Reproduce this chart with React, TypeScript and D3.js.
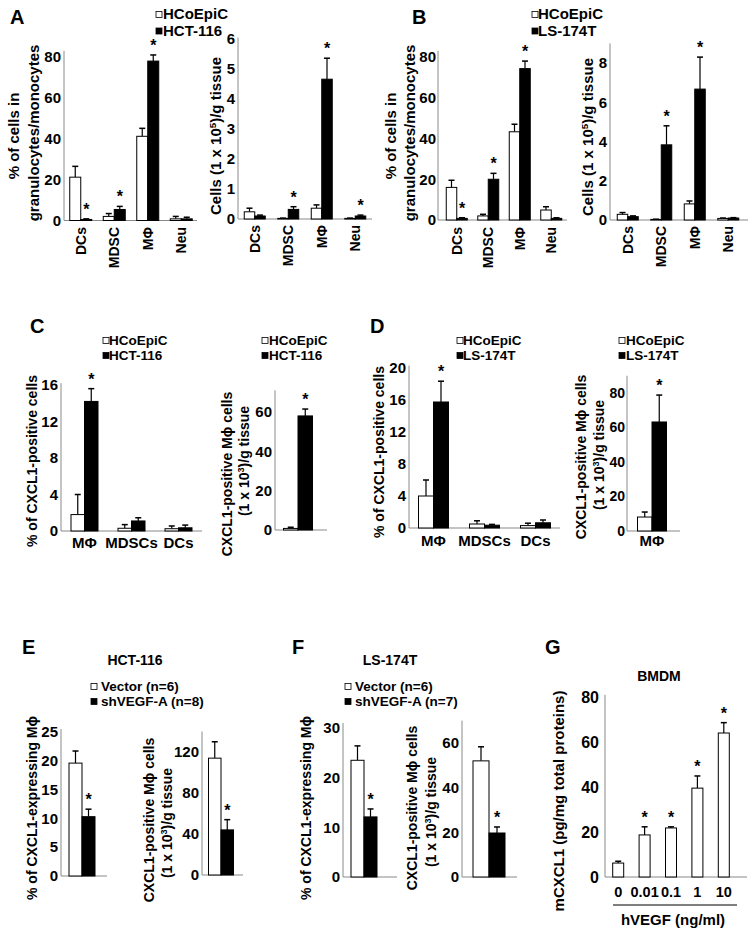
import React from 'react';
import * as d3 from 'd3';

const FONT = '"Liberation Sans", Arial, Helvetica, sans-serif';

// ---------- Panel A ----------
const catsAB = ['DCs', 'MDSC', 'MΦ', 'Neu'];
const aPctTicks = [0, 20, 40, 60, 80];
const aPctHCoEpiC = [21.2, 2, 41.2, 0.8];
const aPctHCoEpiCErr = [5.3, 1.4, 3.9, 1.2];
const aPctHCT116 = [0.5, 5.4, 78, 0.8];
const aPctHCT116Err = [0.3, 1.5, 3, 0.8];
const aPctStars = [1, 1, 1, 0];
const aCellTicks = [0, 1, 2, 3, 4, 5, 6];
const aCellHCoEpiC = [0.24, 0.02, 0.36, 0.02];
const aCellHCoEpiCErr = [0.12, 0.01, 0.11, 0.01];
const aCellHCT116 = [0.1, 0.32, 4.66, 0.1];
const aCellHCT116Err = [0.03, 0.09, 0.7, 0.03];
const aCellStars = [0, 1, 1, 1];

// ---------- Panel B ----------
const bPctTicks = [0, 20, 40, 60, 80];
const bPctHCoEpiC = [16, 2, 43.3, 4.9];
const bPctHCoEpiCErr = [3.5, 0.8, 3.7, 1.6];
const bPctLS174T = [0.8, 20, 74.3, 0.8];
const bPctLS174TErr = [0.3, 2.9, 3.7, 0.3];
const bPctStars = [1, 1, 1, 0];
const bCellTicks = [0, 2, 4, 6, 8];
const bCellHCoEpiC = [0.29, 0.03, 0.82, 0.08];
const bCellHCoEpiCErr = [0.09, 0.01, 0.15, 0.02];
const bCellLS174T = [0.17, 3.83, 6.67, 0.1];
const bCellLS174TErr = [0.04, 0.97, 1.63, 0.02];
const bCellStars = [0, 1, 1, 0];

// ---------- Panel C ----------
const catsCD = ['MΦ', 'MDSCs', 'DCs'];
const cPctTicks = [0, 4, 8, 12, 16];
const cPctHCoEpiC = [1.8, 0.3, 0.25];
const cPctHCoEpiCErr = [2.2, 0.4, 0.3];
const cPctHCT116 = [14.2, 1.1, 0.35];
const cPctHCT116Err = [1.4, 0.35, 0.3];
const cPctStars = [1, 0, 0];
const cCellTicks = [0, 20, 40, 60];
const cCellHCoEpiC = [0.8];
const cCellHCoEpiCErr = [0.6];
const cCellHCT116 = [58];
const cCellHCT116Err = [3.5];
const cCellStars = [1];

// ---------- Panel D ----------
const dPctTicks = [0, 4, 8, 12, 16, 20];
const dPctHCoEpiC = [4.0, 0.5, 0.3];
const dPctHCoEpiCErr = [2.0, 0.4, 0.3];
const dPctLS174T = [15.75, 0.35, 0.65];
const dPctLS174TErr = [2.6, 0.1, 0.35];
const dPctStars = [1, 0, 0];
const catsDCell = ['MΦ'];
const dCellTicks = [0, 20, 40, 60, 80];
const dCellHCoEpiC = [8.1];
const dCellHCoEpiCErr = [2.9];
const dCellLS174T = [63.2];
const dCellLS174TErr = [15.6];
const dCellStars = [1];

// ---------- Panel E ----------
const catsSingle = [''];
const ePctTicks = [0, 5, 10, 15, 20, 25];
const ePctVector = [19.6];
const ePctVectorErr = [2.1];
const ePctShVEGF = [10.3];
const ePctShVEGFErr = [1.3];
const ePctStars = [1];
const eCellTicks = [0, 40, 80, 120];
const eCellVector = [114];
const eCellVectorErr = [16];
const eCellShVEGF = [44];
const eCellShVEGFErr = [10];
const eCellStars = [1];

// ---------- Panel F ----------
const fPctTicks = [0, 10, 20, 30];
const fPctVector = [23.5];
const fPctVectorErr = [2.9];
const fPctShVEGF = [12.1];
const fPctShVEGFErr = [1.6];
const fPctStars = [1];
const fCellTicks = [0, 20, 40, 60];
const fCellVector = [52];
const fCellVectorErr = [6.3];
const fCellShVEGF = [19.7];
const fCellShVEGFErr = [2.7];
const fCellStars = [1];

// ---------- Panel G ----------
const gDoses = ['0', '0.01', '0.1', '1', '10'];
const gTicks = [0, 20, 40, 60, 80];
const gValues = [6.2, 18.7, 21.8, 39.5, 64];
const gErrs = [0.8, 3.6, 0.5, 5.4, 4.6];
const gStars = [0, 1, 1, 1, 1];

type Series = { values: number[]; errs: number[]; fill: string; stars: number[] };

function Panel(p: {
  axisX: number; baseEnd: number; band: [number, number];
  y0: number; yTop: number; tickMax: number; ticks: number[]; axisTopVal: number;
  cats: string[]; catMode?: 'rot' | 'h' | 'none'; catY?: number; catFont?: number;
  series: Series[]; barW: number; tickFont?: number; tickGap?: number;
}) {
  const { axisX, baseEnd, band, y0, yTop, tickMax, ticks, axisTopVal, cats, series, barW } = p;
  const catMode = p.catMode || 'none';
  const catY = p.catY || 0;
  const catFont = p.catFont || 14;
  const tickFont = p.tickFont || 15;
  const tickGap = p.tickGap ?? 3;
  const keys = cats.map((c, i) => c + '#' + i);
  const x = d3.scaleBand<string>().domain(keys).range(band);
  const y = d3.scaleLinear().domain([0, tickMax]).range([y0, yTop]);
  const n = series.length;
  return (
    <g>
      <line x1={axisX} x2={axisX} y1={y0} y2={y(axisTopVal)} stroke="#8a8a8a" strokeWidth={1} />
      <line x1={axisX} x2={baseEnd} y1={y0} y2={y0} stroke="#8a8a8a" strokeWidth={1.2} />
      {ticks.map((t) => (
        <text key={t} x={axisX - tickGap} y={y(t)} dy="0.35em" textAnchor="end" fontSize={tickFont}>{t}</text>
      ))}
      {keys.map((k, i) => {
        const cx = (x(k) as number) + x.bandwidth() / 2;
        return (
          <g key={k}>
            {series.map((s, j) => {
              const left = cx - (n * barW) / 2 + j * barW;
              const bc = left + barW / 2;
              const v = s.values[i];
              const e = s.errs[i];
              const top = y(v);
              const et = y(v + e);
              return (
                <g key={j}>
                  <line x1={bc} x2={bc} y1={top} y2={et} stroke="#000" strokeWidth={1.2} />
                  <line x1={bc - 3} x2={bc + 3} y1={et} y2={et} stroke="#000" strokeWidth={1.5} />
                  <rect x={left} y={top} width={barW} height={Math.max(0.5, y0 - top)} fill={s.fill} stroke="#000" strokeWidth={1} />
                  {s.stars[i] ? (
                    <text x={bc} y={et - 4} textAnchor="middle" fontSize={16}>*</text>
                  ) : null}
                </g>
              );
            })}
            {catMode === 'rot' && (
              <text transform={`translate(${cx},${catY}) rotate(-90)`} textAnchor="end" dy="0.35em" fontSize={catFont}>{cats[i]}</text>
            )}
            {catMode === 'h' && (
              <text x={cx} y={catY} textAnchor="middle" fontSize={catFont}>{cats[i]}</text>
            )}
          </g>
        );
      })}
    </g>
  );
}

function YLabel({ x, y, size = 14, children }: { x: number; y: number; size?: number; children: React.ReactNode }) {
  return (
    <text transform={`translate(${x},${y}) rotate(-90)`} textAnchor="middle" dy="0.35em" fontSize={size}>{children}</text>
  );
}

function Sup({ pre, sup, post }: { pre: string; sup: string; post: string }) {
  return (
    <>
      {pre}
      <tspan dy={-5} fontSize="0.65em">{sup}</tspan>
      <tspan dy={5}>{post}</tspan>
    </>
  );
}

function Legend({ x, tx, y, gap, size, sq, items }: { x: number; tx: number; y: number; gap: number; size: number; sq: number; items: { fill: string; label: string }[] }) {
  return (
    <g>
      {items.map((it, i) => (
        <g key={i}>
          <rect x={x} y={y + i * gap - sq - 1.5} width={sq} height={sq} fill={it.fill} stroke="#000" strokeWidth={0.8} />
          <text x={tx} y={y + i * gap} fontSize={size}>{it.label}</text>
        </g>
      ))}
    </g>
  );
}

export default function App() {
  const W = 'white';
  const K = 'black';
  return (
    <svg width={754} height={935} style={{ position: 'absolute', left: 0, top: 0, background: '#fff' }} fontFamily={FONT} fontWeight="bold">
      <rect width={754} height={935} fill="#fff" />

      {/* Panel letters */}
      <text x={10} y={24} fontSize={20}>A</text>
      <text x={412} y={24} fontSize={20}>B</text>
      <text x={30} y={333} fontSize={20}>C</text>
      <text x={370} y={333} fontSize={20}>D</text>
      <text x={22} y={654} fontSize={20}>E</text>
      <text x={292} y={654} fontSize={20}>F</text>
      <text x={545} y={654} fontSize={20}>G</text>

      {/* ---------- A ---------- */}
      <Legend x={156} tx={163} y={19} gap={16.5} size={15} sq={6} items={[{ fill: W, label: 'HCoEpiC' }, { fill: K, label: 'HCT-116' }]} />
      <YLabel x={14} y={136} size={15}>% of cells in</YLabel>
      <YLabel x={34} y={133} size={15}>granulocytes/monocytes</YLabel>
      <Panel axisX={64} baseEnd={197} band={[64, 198]} y0={220.5} yTop={57} tickMax={80} ticks={aPctTicks} axisTopVal={83}
        cats={catsAB} catMode="rot" catY={227} catFont={14} barW={11}
        series={[
          { values: aPctHCoEpiC, errs: aPctHCoEpiCErr, fill: W, stars: [0, 0, 0, 0] },
          { values: aPctHCT116, errs: aPctHCT116Err, fill: K, stars: aPctStars },
        ]} />
      <YLabel x={216} y={136} size={15}><Sup pre="Cells (1 x 10" sup="5" post=")/g tissue" /></YLabel>
      <Panel axisX={238} baseEnd={372} band={[238, 372]} y0={219} yTop={39} tickMax={6} ticks={aCellTicks} axisTopVal={6.05}
        cats={catsAB} catMode="rot" catY={225} catFont={14} barW={10.5}
        series={[
          { values: aCellHCoEpiC, errs: aCellHCoEpiCErr, fill: W, stars: [0, 0, 0, 0] },
          { values: aCellHCT116, errs: aCellHCT116Err, fill: K, stars: aCellStars },
        ]} />

      {/* ---------- B ---------- */}
      <Legend x={532} tx={538} y={19} gap={16.5} size={15} sq={6} items={[{ fill: W, label: 'HCoEpiC' }, { fill: K, label: 'LS-174T' }]} />
      <YLabel x={391} y={136} size={15}>% of cells in</YLabel>
      <YLabel x={410} y={133} size={15}>granulocytes/monocytes</YLabel>
      <Panel axisX={438} baseEnd={567} band={[441, 567]} y0={220} yTop={57} tickMax={80} ticks={bPctTicks} axisTopVal={83}
        cats={catsAB} catMode="rot" catY={227} catFont={14} barW={10.5} tickGap={2}
        series={[
          { values: bPctHCoEpiC, errs: bPctHCoEpiCErr, fill: W, stars: [0, 0, 0, 0] },
          { values: bPctLS174T, errs: bPctLS174TErr, fill: K, stars: bPctStars },
        ]} />
      <YLabel x={588} y={137} size={15}><Sup pre="Cells (1 x 10" sup="5" post=")/g tissue" /></YLabel>
      <Panel axisX={610} baseEnd={748} band={[611, 745]} y0={220} yTop={63} tickMax={8} ticks={bCellTicks} axisTopVal={9}
        cats={catsAB} catMode="rot" catY={226} catFont={14} barW={10.5}
        series={[
          { values: bCellHCoEpiC, errs: bCellHCoEpiCErr, fill: W, stars: [0, 0, 0, 0] },
          { values: bCellLS174T, errs: bCellLS174TErr, fill: K, stars: bCellStars },
        ]} />

      {/* ---------- C ---------- */}
      <Legend x={103} tx={109} y={345} gap={15} size={13.5} sq={6} items={[{ fill: W, label: 'HCoEpiC' }, { fill: K, label: 'HCT-116' }]} />
      <Legend x={262} tx={269} y={345} gap={15} size={13.5} sq={6} items={[{ fill: W, label: 'HCoEpiC' }, { fill: K, label: 'HCT-116' }]} />
      <YLabel x={32} y={461} size={14}>% of CXCL1-positive cells</YLabel>
      <Panel axisX={61} baseEnd={202} band={[61, 202]} y0={531} yTop={385} tickMax={16} ticks={cPctTicks} axisTopVal={16.2}
        cats={catsCD} catMode="h" catY={548} catFont={15} barW={13.5} tickFont={15}
        series={[
          { values: cPctHCoEpiC, errs: cPctHCoEpiCErr, fill: W, stars: [0, 0, 0] },
          { values: cPctHCT116, errs: cPctHCT116Err, fill: K, stars: cPctStars },
        ]} />
      <YLabel x={227} y={474} size={14}>CXCL1-positive Mϕ cells</YLabel>
      <YLabel x={244} y={461} size={14}><Sup pre="(1 x 10" sup="3" post=")/g tissue" /></YLabel>
      <Panel axisX={275} baseEnd={327} band={[275, 321]} y0={530} yTop={412} tickMax={60} ticks={cCellTicks} axisTopVal={71}
        cats={catsSingle} catMode="none" barW={14.5} tickFont={15}
        series={[
          { values: cCellHCoEpiC, errs: cCellHCoEpiCErr, fill: W, stars: [0] },
          { values: cCellHCT116, errs: cCellHCT116Err, fill: K, stars: cCellStars },
        ]} />

      {/* ---------- D ---------- */}
      <Legend x={457} tx={463} y={345} gap={15} size={13.5} sq={6} items={[{ fill: W, label: 'HCoEpiC' }, { fill: K, label: 'LS-174T' }]} />
      <Legend x={619} tx={626} y={345} gap={15} size={13.5} sq={6} items={[{ fill: W, label: 'HCoEpiC' }, { fill: K, label: 'LS-174T' }]} />
      <YLabel x={379} y={452} size={14}>% of CXCL1-positive cells</YLabel>
      <Panel axisX={409} baseEnd={560} band={[408, 561]} y0={528} yTop={368} tickMax={20} ticks={dPctTicks} axisTopVal={20.3}
        cats={catsCD} catMode="h" catY={546} catFont={15} barW={15} tickFont={15}
        series={[
          { values: dPctHCoEpiC, errs: dPctHCoEpiCErr, fill: W, stars: [0, 0, 0] },
          { values: dPctLS174T, errs: dPctLS174TErr, fill: K, stars: dPctStars },
        ]} />
      <YLabel x={581} y={457} size={14}>CXCL1-positive Mϕ cells</YLabel>
      <YLabel x={599} y={455} size={14}><Sup pre="(1 x 10" sup="3" post=")/g tissue" /></YLabel>
      <Panel axisX={627} baseEnd={680} band={[627, 677]} y0={531} yTop={393} tickMax={80} ticks={dCellTicks} axisTopVal={90}
        cats={catsDCell} catMode="h" catY={546} catFont={15} barW={14.5} tickFont={14} tickGap={2}
        series={[
          { values: dCellHCoEpiC, errs: dCellHCoEpiCErr, fill: W, stars: [0] },
          { values: dCellLS174T, errs: dCellLS174TErr, fill: K, stars: dCellStars },
        ]} />

      {/* ---------- E ---------- */}
      <text x={135} y={665} textAnchor="middle" fontSize={14}>HCT-116</text>
      <Legend x={91} tx={101} y={691} gap={15} size={13.5} sq={6} items={[{ fill: W, label: 'Vector (n=6)' }, { fill: K, label: 'shVEGF-A (n=8)' }]} />
      <YLabel x={32} y={808} size={14}>% of CXCL1-expressing Mϕ</YLabel>
      <Panel axisX={61} baseEnd={107} band={[61, 103]} y0={876} yTop={732} tickMax={25} ticks={ePctTicks} axisTopVal={25.5}
        cats={catsSingle} barW={13} tickFont={15}
        series={[
          { values: ePctVector, errs: ePctVectorErr, fill: W, stars: [0] },
          { values: ePctShVEGF, errs: ePctShVEGFErr, fill: K, stars: ePctStars },
        ]} />
      <YLabel x={149} y={820} size={14}>CXCL1-positive Mϕ cells</YLabel>
      <YLabel x={167} y={823} size={14}><Sup pre="(1 x 10" sup="3" post=")/g tissue" /></YLabel>
      <Panel axisX={202} baseEnd={243} band={[202, 240]} y0={875} yTop={752} tickMax={120} ticks={eCellTicks} axisTopVal={140}
        cats={catsSingle} barW={12.5} tickFont={15}
        series={[
          { values: eCellVector, errs: eCellVectorErr, fill: W, stars: [0] },
          { values: eCellShVEGF, errs: eCellShVEGFErr, fill: K, stars: eCellStars },
        ]} />

      {/* ---------- F ---------- */}
      <text x={390} y={665} textAnchor="middle" fontSize={14}>LS-174T</text>
      <Legend x={345} tx={355} y={691} gap={15} size={13.5} sq={6} items={[{ fill: W, label: 'Vector (n=6)' }, { fill: K, label: 'shVEGF-A (n=7)' }]} />
      <YLabel x={306} y={808} size={14}>% of CXCL1-expressing Mϕ</YLabel>
      <Panel axisX={343} baseEnd={397} band={[343, 385]} y0={877} yTop={728} tickMax={30} ticks={fPctTicks} axisTopVal={31}
        cats={catsSingle} barW={13} tickFont={15}
        series={[
          { values: fPctVector, errs: fPctVectorErr, fill: W, stars: [0] },
          { values: fPctShVEGF, errs: fPctShVEGFErr, fill: K, stars: fPctStars },
        ]} />
      <YLabel x={412} y={808} size={14}>CXCL1-positive Mϕ cells</YLabel>
      <YLabel x={431} y={812} size={14}><Sup pre="(1 x 10" sup="3" post=")/g tissue" /></YLabel>
      <Panel axisX={462} baseEnd={517} band={[462, 516]} y0={877} yTop={743} tickMax={60} ticks={fCellTicks} axisTopVal={70}
        cats={catsSingle} barW={16} tickFont={15}
        series={[
          { values: fCellVector, errs: fCellVectorErr, fill: W, stars: [0] },
          { values: fCellShVEGF, errs: fCellShVEGFErr, fill: K, stars: fCellStars },
        ]} />

      {/* ---------- G ---------- */}
      <text x={659} y={681} textAnchor="middle" fontSize={14}>BMDM</text>
      <YLabel x={559} y={801} size={15}>mCXCL1 (pg/mg total proteins)</YLabel>
      <Panel axisX={605} baseEnd={747} band={[605, 737]} y0={877} yTop={697} tickMax={80} ticks={gTicks} axisTopVal={81}
        cats={gDoses} catMode="h" catY={897} catFont={14.5} barW={11} tickFont={16} tickGap={6}
        series={[{ values: gValues, errs: gErrs, fill: W, stars: gStars }]} />
      <line x1={613} x2={737} y1={905} y2={905} stroke="#000" strokeWidth={1} />
      <text x={673} y={925} textAnchor="middle" fontSize={15}>hVEGF (ng/ml)</text>
    </svg>
  );
}
